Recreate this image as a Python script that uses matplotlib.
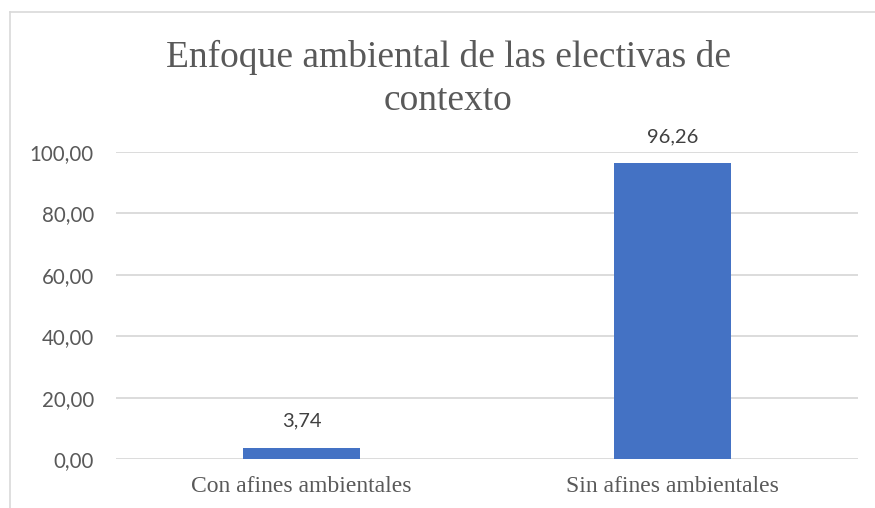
import matplotlib.pyplot as plt
from matplotlib.lines import Line2D

categorias = ['Con afines ambientales', 'Sin afines ambientales']
valores = [3.74, 96.26]
titulo = 'Enfoque ambiental de las electivas de\ncontexto'
y_ticks = [0, 20, 40, 60, 80, 100]

fig = plt.figure(figsize=(8.75, 5.08), dpi=100)
ax = fig.add_axes([116 / 875, 1 - 459 / 508, (858 - 116) / 875, (459 - 152) / 508])

x = range(len(categorias))
ax.bar(x, valores, width=0.313, color='#4472c4', zorder=3)
for xi, v in zip(x, valores):
    ax.annotate(f'{v:.2f}'.replace('.', ','), (xi, v), xytext=(0, 13),
                textcoords='offset points', ha='center', va='bottom',
                fontsize=14.5, family='Lato', color='#404040')

ax.set_xlim(-0.5, 1.5)
ax.set_ylim(0, 100)
ax.set_yticks(y_ticks)
ax.set_yticklabels([f'{t:.2f}'.replace('.', ',') for t in y_ticks],
                   fontsize=14.8, family='Lato', color='#595959')
ax.set_xticks(list(x))
ax.set_xticklabels(categorias, fontsize=17, family='Liberation Serif', color='#595959')
ax.tick_params(length=0, axis='y', pad=16)
ax.tick_params(length=0, axis='x', pad=12)
ax.grid(axis='y', color='#d9d9d9', linewidth=1.3, zorder=0)
for s in ax.spines.values():
    s.set_visible(False)

fig.text(448 / 875, 1 - 79 / 508, titulo, ha='center', va='center',
         fontsize=27, family='Liberation Serif', color='#595959', linespacing=1.3)

# chart border (Excel-style)
fig.add_artist(Line2D([10 / 875, 10 / 875], [0, 1 - 12 / 508], color='#d9d9d9', lw=1.2))
fig.add_artist(Line2D([10 / 875, 1], [1 - 12 / 508, 1 - 12 / 508], color='#d9d9d9', lw=1.2))

fig.savefig('out.png', dpi=100)
